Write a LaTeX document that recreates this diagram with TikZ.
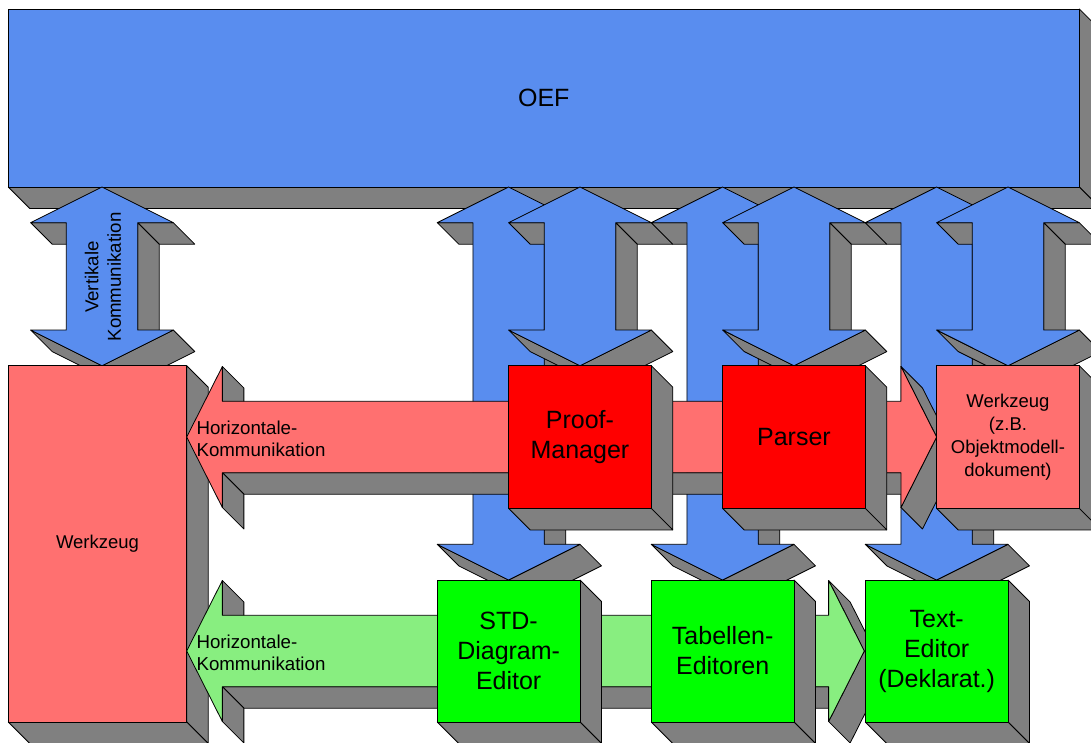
\documentclass[tikz,border=0pt]{standalone}
\usepackage{fontspec}
\setmainfont{Liberation Sans}
\definecolor{blk}{RGB}{89,141,239}
\definecolor{salmon}{RGB}{255,112,112}
\definecolor{hotred}{RGB}{255,0,0}
\definecolor{lgreen}{RGB}{136,238,128}
\definecolor{hotgreen}{RGB}{0,255,0}
\definecolor{shadegray}{RGB}{128,128,128}

% extrusion depth, arrow head/shaft half-widths, head length
\def\D{21.5}
\def\HH{71.33}
\def\HS{35.67}
\def\HL{35.67}
\def\HV{70.5}

\tikzset{
  side/.style={fill=shadegray, draw=black, line width=0.8pt, line join=round},
  face/.style={draw=black, line width=0.8pt, line join=round},
  bigtext/.style={font=\fontsize{25}{30}\selectfont, align=center},
  midtext/.style={font=\fontsize{18.5}{23}\selectfont, align=center},
  smalltext/.style={font=\fontsize{18.7}{22.5}\selectfont, align=left},
}

% extruded box: name, x1, y1, x2, y2, colour, text, text style
\newcommand\solidbox[8]{%
  \draw[side] (#4,#3) -- (#4,#5) -- ({#4+\D},{#5+\D}) -- ({#4+\D},{#3+\D}) -- cycle;
  \draw[side] (#2,#5) -- (#4,#5) -- ({#4+\D},{#5+\D}) -- ({#2+\D},{#5+\D}) -- cycle;
  \filldraw[face, fill=#6] (#2,#3) rectangle (#4,#5);
  \node[#8] (#1) at ({(#2+#4)/2},{(#3+#5)/2}) {#7};
}

% extruded vertical double arrow: centre x, top tip y, bottom tip y, colour
\newcommand\vdouble[4]{%
  \draw[side] ({#1-\HS},{#2+\HL}) -- ({#1-\HH},{#2+\HL}) -- ({#1-\HH+\D},{#2+\HL+\D}) -- ({#1-\HS+\D},{#2+\HL+\D}) -- cycle;
  \draw[side] ({#1+\HH},{#2+\HL}) -- ({#1+\HS},{#2+\HL}) -- ({#1+\HS+\D},{#2+\HL+\D}) -- ({#1+\HH+\D},{#2+\HL+\D}) -- cycle;
  \draw[side] ({#1+\HS},{#2+\HL}) -- ({#1+\HS},{#3-\HL}) -- ({#1+\HS+\D},{#3-\HL+\D}) -- ({#1+\HS+\D},{#2+\HL+\D}) -- cycle;
  \draw[side] ({#1+\HH},{#3-\HL}) -- (#1,#3) -- ({#1+\D},{#3+\D}) -- ({#1+\HH+\D},{#3-\HL+\D}) -- cycle;
  \draw[side] (#1,#3) -- ({#1-\HH},{#3-\HL}) -- ({#1-\HH+\D},{#3-\HL+\D}) -- ({#1+\D},{#3+\D}) -- cycle;
  \filldraw[face, fill=#4] (#1,#2) -- ({#1+\HH},{#2+\HL}) -- ({#1+\HS},{#2+\HL}) -- ({#1+\HS},{#3-\HL})
    -- ({#1+\HH},{#3-\HL}) -- (#1,#3) -- ({#1-\HH},{#3-\HL}) -- ({#1-\HS},{#3-\HL})
    -- ({#1-\HS},{#2+\HL}) -- ({#1-\HH},{#2+\HL}) -- cycle;
}

% extruded horizontal double arrow: left tip x, right tip x, centre y, colour
\newcommand\hdouble[4]{%
  \draw[side] ({#1+\HL},{#3-\HV}) -- ({#1+\HL},{#3-\HS}) -- ({#1+\HL+\D},{#3-\HS+\D}) -- ({#1+\HL+\D},{#3-\HV+\D}) -- cycle;
  \draw[side] ({#2-\HL},{#3+\HS}) -- ({#1+\HL},{#3+\HS}) -- ({#1+\HL+\D},{#3+\HS+\D}) -- ({#2-\HL+\D},{#3+\HS+\D}) -- cycle;
  \draw[side] ({#1+\HL},{#3+\HS}) -- ({#1+\HL},{#3+\HV}) -- ({#1+\HL+\D},{#3+\HV+\D}) -- ({#1+\HL+\D},{#3+\HS+\D}) -- cycle;
  \draw[side] ({#2-\HL},{#3-\HV}) -- (#2,#3) -- ({#2+\D},{#3+\D}) -- ({#2-\HL+\D},{#3-\HV+\D}) -- cycle;
  \draw[side] (#2,#3) -- ({#2-\HL},{#3+\HV}) -- ({#2-\HL+\D},{#3+\HV+\D}) -- ({#2+\D},{#3+\D}) -- cycle;
  \filldraw[face, fill=#4] (#1,#3) -- ({#1+\HL},{#3-\HV}) -- ({#1+\HL},{#3-\HS}) -- ({#2-\HL},{#3-\HS})
    -- ({#2-\HL},{#3-\HV}) -- (#2,#3) -- ({#2-\HL},{#3+\HV}) -- ({#2-\HL},{#3+\HS})
    -- ({#1+\HL},{#3+\HS}) -- ({#1+\HL},{#3+\HV}) -- cycle;
}

\begin{document}
\begin{tikzpicture}[x=1pt, y=-1pt]
\useasboundingbox (0,0) rectangle (1091,742);
\clip (0,0) rectangle (1091,742);
\fill[white] (0,0) rectangle (1091,742);

% framework block
\solidbox{oef}{8.3}{9}{1079.3}{187}{blk}{OEF}{bigtext}

% vertical communication to the framework
\vdouble{102}{187}{365.7}{blk}
\node[smalltext, align=center, rotate=90] (vk) at (103,277) {Vertikale\\Kommunikation};

% framework links down to the tools
\vdouble{508.6}{187}{580}{blk}
\vdouble{580}{187}{365.7}{blk}
\vdouble{722.6}{187}{580}{blk}
\vdouble{794}{187}{365.7}{blk}
\vdouble{936.6}{187}{580}{blk}
\vdouble{1008}{187}{365.7}{blk}

% stand-alone tool
\solidbox{wz}{8.3}{365.7}{186.7}{722}{salmon}{Werkzeug}{midtext}

% upper tool row
\hdouble{186.7}{936.6}{437}{salmon}
\node[smalltext, anchor=west] (hk1) at (193,439) {Horizontale-\\Kommunikation};
\solidbox{pm}{508.6}{365.7}{651.3}{508.4}{hotred}{Proof-\\Manager}{bigtext}
\solidbox{ps}{722.6}{365.7}{865.3}{508.4}{hotred}{Parser}{bigtext}
\solidbox{wzb}{936.6}{365.7}{1079.3}{508.4}{salmon}{Werkzeug\\(z.B.\\Objektmodell-\\dokument)}{midtext}

% lower tool row
\hdouble{186.7}{864.3}{651}{lgreen}
\node[smalltext, anchor=west] (hk2) at (193,653) {Horizontale-\\Kommunikation};
\solidbox{std}{437.3}{580}{580}{722}{hotgreen}{STD-\\Diagram-\\Editor}{bigtext}
\solidbox{tab}{651.3}{580}{794}{722}{hotgreen}{Tabellen-\\Editoren}{bigtext}
\solidbox{txt}{865.3}{580}{1008}{722}{hotgreen}{Text-\\Editor\\(Deklarat.)}{bigtext}
\end{tikzpicture}
\end{document}
